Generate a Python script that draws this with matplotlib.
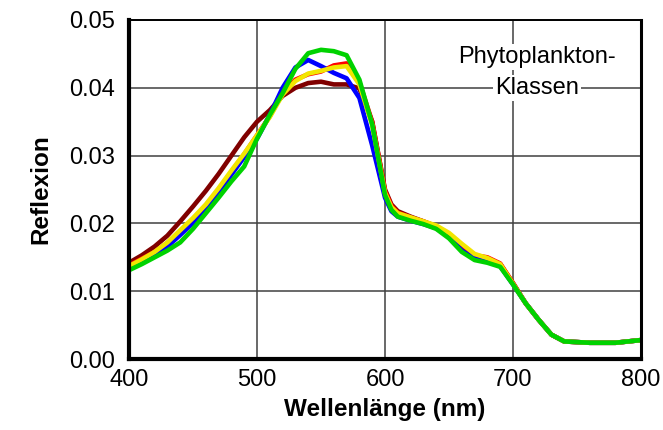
import matplotlib.pyplot as plt

plt.rcParams["font.family"] = ["Liberation Sans", "DejaVu Sans"]

# wavelength grid (nm)
wavelengths = [400, 410, 420, 430, 440, 450, 460, 470, 480, 490, 500, 510, 520, 530,
               540, 550, 560, 570, 580, 590, 600, 605, 610, 620, 630, 640, 650, 660,
               670, 680, 690, 700, 710, 720, 730, 740, 750, 760, 770, 780, 790, 800]

# red edge / NIR part is the same for all classes
tail = [0.0082, 0.0058, 0.0036, 0.0026, 0.0025, 0.0024, 0.0024, 0.0024, 0.0026, 0.0028]

refl_brown = [0.0142, 0.0153, 0.0166, 0.0182, 0.0203, 0.0225, 0.0248, 0.0273, 0.0300, 0.0327,
              0.0350, 0.0367, 0.0388, 0.0400, 0.0407, 0.0409, 0.0405, 0.0405, 0.0399, 0.0350,
              0.0250, 0.0228, 0.0218, 0.0210, 0.0203, 0.0195, 0.0182, 0.0163, 0.0151, 0.0147,
              0.0140, 0.0112] + tail
refl_red = [0.0138, 0.0148, 0.0158, 0.0171, 0.0188, 0.0206, 0.0226, 0.0250, 0.0276, 0.0302,
            0.0330, 0.0358, 0.0392, 0.0412, 0.0420, 0.0424, 0.0433, 0.0436, 0.0408, 0.0350,
            0.0248, 0.0226, 0.0216, 0.0209, 0.0203, 0.0196, 0.0184, 0.0166, 0.0153, 0.0150,
            0.0141, 0.0112] + tail
refl_blue = [0.0134, 0.0143, 0.0153, 0.0166, 0.0183, 0.0201, 0.0221, 0.0245, 0.0272, 0.0298,
             0.0325, 0.0360, 0.0400, 0.0430, 0.0441, 0.0432, 0.0422, 0.0414, 0.0385, 0.0315,
             0.0238, 0.0218, 0.0210, 0.0204, 0.0199, 0.0193, 0.0180, 0.0160, 0.0148, 0.0144,
             0.0137, 0.0110] + tail
refl_yellow = [0.0137, 0.0147, 0.0158, 0.0172, 0.0190, 0.0208, 0.0228, 0.0252, 0.0278, 0.0303,
               0.0330, 0.0357, 0.0390, 0.0410, 0.0421, 0.0425, 0.0430, 0.0432, 0.0405, 0.0345,
               0.0245, 0.0224, 0.0215, 0.0209, 0.0203, 0.0197, 0.0186, 0.0170, 0.0155, 0.0149,
               0.0140, 0.0111] + tail
refl_green = [0.0131, 0.0140, 0.0150, 0.0160, 0.0172, 0.0192, 0.0215, 0.0238, 0.0262, 0.0284,
              0.0325, 0.0360, 0.0392, 0.0428, 0.0451, 0.0456, 0.0454, 0.0448, 0.0412, 0.0346,
              0.0242, 0.0220, 0.0210, 0.0204, 0.0199, 0.0192, 0.0178, 0.0158, 0.0146, 0.0142,
              0.0136, 0.0110] + tail

series = [
    (refl_brown, "#800000"),
    (refl_red, "#ff0000"),
    (refl_blue, "#0000ff"),
    (refl_yellow, "#f2e600"),
    (refl_green, "#00d200"),
]

fig = plt.figure(figsize=(6.63, 4.30), dpi=100)
ax = fig.add_axes([0.1946, 0.165, 0.7722, 0.7885])

for values, color in series:
    ax.plot(wavelengths, values, color=color, lw=3.3, solid_joinstyle="round", zorder=3)

ax.set_xlim(400, 800)
ax.set_ylim(0, 0.05)
ax.set_xticks([400, 500, 600, 700, 800])
ax.set_yticks([0.0, 0.01, 0.02, 0.03, 0.04, 0.05])
ax.set_yticklabels(["0.00", "0.01", "0.02", "0.03", "0.04", "0.05"])
ax.tick_params(length=0, labelsize=17, pad=10)
ax.tick_params(axis="x", pad=7)
ax.grid(True, color="#404040", lw=1.1)
ax.set_axisbelow(True)

for side, lw in [("left", 3.0), ("bottom", 3.0), ("right", 2.2), ("top", 1.4)]:
    ax.spines[side].set_linewidth(lw)
    ax.spines[side].set_color("black")
    ax.spines[side].set_zorder(4)

ax.set_xlabel("Wellenlänge (nm)", fontsize=17.5, fontweight="bold", labelpad=5)
ax.set_ylabel("Reflexion", fontsize=17.5, fontweight="bold", labelpad=12)

box = dict(facecolor="white", edgecolor="none", pad=1.5)
ax.text(719, 0.0445, "Phytoplankton-", fontsize=17, ha="center", va="center",
        bbox=box, zorder=5)
ax.text(719, 0.0400, "Klassen", fontsize=17, ha="center", va="center",
        bbox=box, zorder=5)

fig.savefig("out.png", dpi=100)
